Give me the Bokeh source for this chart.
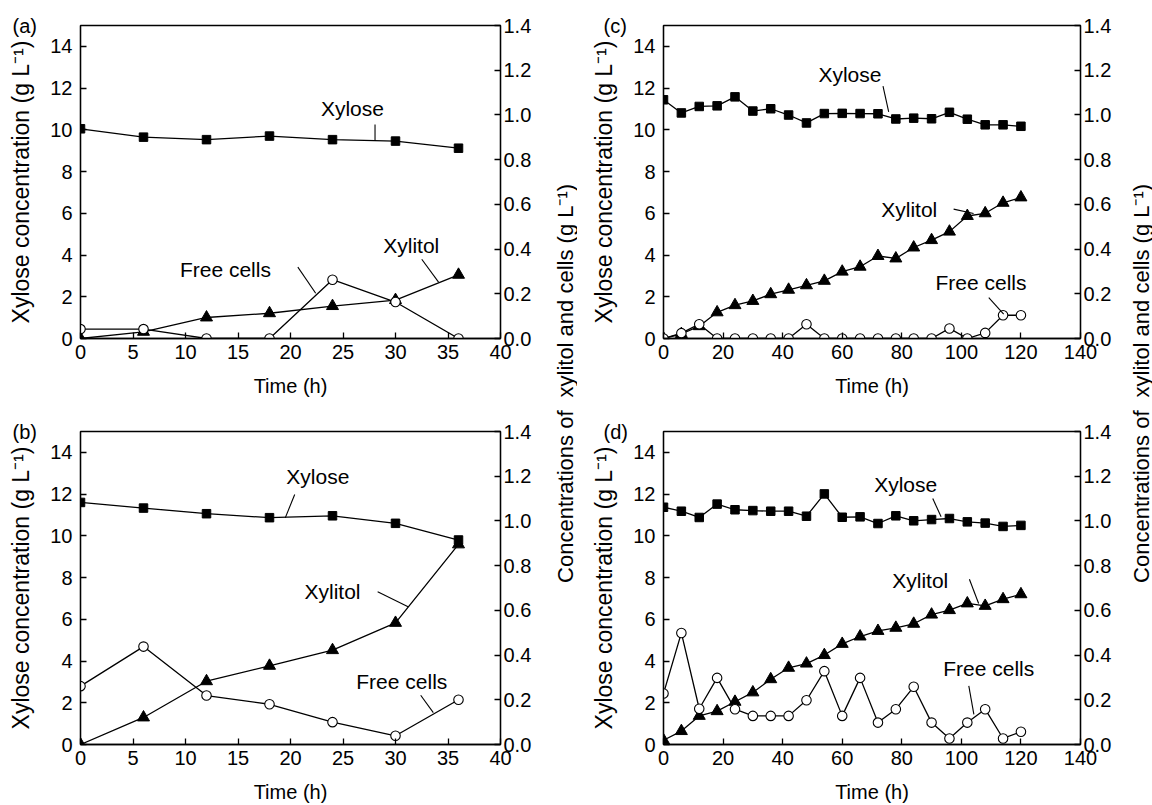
import math
from bokeh.plotting import figure
from bokeh.models import Range1d, LinearAxis, FixedTicker, PrintfTickFormatter, Label
from bokeh.layouts import row, column
from bokeh.embed import file_html
from bokeh.resources import INLINE

# ---------------- data ----------------
time_ab = [0, 6, 12, 18, 24, 30, 36]
time_cd = [0, 6, 12, 18, 24, 30, 36, 42, 48, 54, 60, 66, 72, 78, 84, 90, 96, 102, 108, 114, 120]

xylose_a = [10.05, 9.65, 9.53, 9.70, 9.53, 9.46, 9.12]
xylitol_a = [0.0, 0.030, 0.094, 0.113, 0.145, 0.172, 0.285]
cells_a = [0.042, 0.042, 0.0, 0.0, 0.263, 0.163, 0.0]

xylose_b = [11.60, 11.33, 11.06, 10.87, 10.96, 10.60, 9.80]
xylitol_b = [0.0, 0.121, 0.283, 0.352, 0.422, 0.544, 0.895]
cells_b = [0.261, 0.438, 0.219, 0.180, 0.100, 0.039, 0.200]

xylose_c = [11.44, 10.81, 11.12, 11.15, 11.58, 10.90, 11.01, 10.71, 10.33, 10.78, 10.79,
            10.78, 10.77, 10.52, 10.56, 10.53, 10.84, 10.51, 10.24, 10.24, 10.17]
xylitol_c = [0.0, 0.020, 0.055, 0.117, 0.149, 0.168, 0.198, 0.218, 0.238, 0.258, 0.299,
             0.321, 0.369, 0.358, 0.407, 0.440, 0.478, 0.548, 0.560, 0.607, 0.631]
cells_c = [0.0, 0.024, 0.064, 0.0, 0.0, 0.0, 0.0, 0.0, 0.064, 0.0, 0.0,
           0.0, 0.0, 0.0, 0.0, 0.0, 0.045, 0.0, 0.025, 0.104, 0.104]

xylose_d = [11.37, 11.18, 10.88, 11.52, 11.25, 11.21, 11.18, 11.18, 10.94, 12.01, 10.89,
            10.91, 10.59, 10.96, 10.72, 10.78, 10.83, 10.67, 10.61, 10.45, 10.50]
xylitol_d = [0.019, 0.060, 0.128, 0.149, 0.191, 0.233, 0.292, 0.343, 0.362, 0.400, 0.450,
             0.483, 0.508, 0.522, 0.540, 0.581, 0.601, 0.631, 0.620, 0.650, 0.672]
cells_d = [0.228, 0.499, 0.160, 0.298, 0.158, 0.128, 0.128, 0.128, 0.198, 0.328, 0.128,
           0.298, 0.098, 0.158, 0.258, 0.098, 0.027, 0.098, 0.158, 0.027, 0.057]

x_ticks_ab = [0, 5, 10, 15, 20, 25, 30, 35, 40]
x_ticks_cd = [0, 20, 40, 60, 80, 100, 120, 140]
left_ticks = [0, 2, 4, 6, 8, 10, 12, 14]
right_ticks = [0.0, 0.2, 0.4, 0.6, 0.8, 1.0, 1.2, 1.4]

series_names = ["Xylose", "Xylitol", "Free cells"]
right_label_upper = "xylitol and cells (g L\u207b\u00b9)"
right_label_lower = "Concentrations of"

# annotation placements (left-axis data units)
ann = {
    "a": [(25.9, 11.0), (31.5, 4.46), (13.8, 3.33)],
    "b": [(22.6, 12.84), (24.0, 7.32), (30.6, 3.04)],
    "c": [(62.6, 12.67), (82.5, 6.2), (106.6, 2.67)],
    "d": [(81.3, 12.48), (86.2, 7.86), (109.2, 3.64)],
}
leaders = {
    "a": [(28.05, 10.25, 28.05, 9.5), (32.5, 3.8, 34.1, 2.7), (20.7, 3.42, 22.4, 2.17)],
    "b": [(20.4, 11.98, 19.5, 10.86), (28.3, 7.32, 31.2, 6.6), (32.4, 2.36, 33.6, 1.53)],
    "c": [(73.7, 12.09, 75.6, 10.86), (97.4, 6.2, 104.1, 5.99), (109.2, 1.96, 114.2, 1.17)],
    "d": [(90.4, 11.79, 93.2, 10.91), (102.7, 7.92, 105.8, 6.76), (102.5, 2.81, 104.2, 1.44)],
}

FONT = "Liberation Sans"
TICK_SIZE = "20px"
XLBL_SIZE = "20px"
YLBL_SIZE = "23px"
RLBL_SIZE = "22px"
TAG_SIZE = "20px"
ANN_SIZE = "21px"
LW = 1.3
FRAME_H = 313


def make_panel(tag, t, xylose, xylitol, cells, xmax, xticks, width, height,
               mb_left, mb_right, mb_top, mb_bottom, tag_offset):
    p = figure(width=width, height=height, x_range=Range1d(0, xmax), y_range=Range1d(0, 15),
               output_backend="svg", toolbar_location=None,
               min_border_left=mb_left, min_border_right=mb_right,
               min_border_top=mb_top, min_border_bottom=mb_bottom,
               title="(" + tag + ")")
    # panel tag drawn as title, pulled left of the frame and down onto its top edge
    p.title.align = "left"
    p.title.offset = tag_offset
    p.title.vertical_align = "bottom"
    p.title.standoff = -22
    p.title.text_font = FONT
    p.title.text_font_size = TAG_SIZE
    p.title.text_font_style = "normal"
    p.title.text_color = "black"

    p.extra_y_ranges = {"r": Range1d(0, 1.4)}
    p.xgrid.visible = False
    p.ygrid.visible = False
    p.outline_line_color = "black"
    p.outline_line_width = LW
    p.background_fill_color = "white"
    p.border_fill_color = "white"

    p.xaxis.ticker = FixedTicker(ticks=xticks)
    p.yaxis.ticker = FixedTicker(ticks=left_ticks)
    p.xaxis.axis_label = "Time (h)"
    p.yaxis.axis_label = "Xylose concentration (g L\u207b\u00b9)"

    rax = LinearAxis(y_range_name="r", ticker=FixedTicker(ticks=right_ticks),
                     formatter=PrintfTickFormatter(format="%.1f"))
    p.add_layout(rax, "right")

    for ax in p.axis:
        ax.major_tick_in = 6
        ax.major_tick_out = 0
        ax.minor_tick_in = 0
        ax.minor_tick_out = 0
        ax.axis_line_color = "black"
        ax.axis_line_width = LW
        ax.major_tick_line_width = LW
        ax.major_label_text_font = FONT
        ax.major_label_text_font_size = TICK_SIZE
        ax.major_label_text_color = "black"
        ax.axis_label_text_font = FONT
        ax.axis_label_text_font_style = "normal"
        ax.axis_label_text_color = "black"
    p.xaxis.axis_label_text_font_size = XLBL_SIZE
    p.yaxis.axis_label_text_font_size = YLBL_SIZE
    p.xaxis.major_label_standoff = 6
    p.xaxis.axis_label_standoff = 13
    p.yaxis.major_label_standoff = 8
    p.yaxis.axis_label_standoff = 13
    rax.major_label_standoff = 3

    # series
    p.line(t, xylitol, y_range_name="r", line_color="black", line_width=LW)
    p.scatter(t, xylitol, y_range_name="r", marker="triangle", size=12,
              fill_color="black", line_color="black")
    p.line(t, xylose, line_color="black", line_width=LW)
    p.scatter(t, xylose, marker="square", size=8.5, fill_color="black", line_color="black")
    p.line(t, cells, y_range_name="r", line_color="black", line_width=LW)
    p.scatter(t, cells, y_range_name="r", marker="circle", size=9.5,
              fill_color="white", line_color="black", line_width=1.1)

    # leader lines and annotations
    segs = leaders[tag]
    p.segment(x0=[s[0] for s in segs], y0=[s[1] for s in segs],
              x1=[s[2] for s in segs], y1=[s[3] for s in segs],
              line_color="black", line_width=1.1)
    for name, (ax_, ay_) in zip(series_names, ann[tag]):
        p.add_layout(Label(x=ax_, y=ay_, text=name, text_font=FONT,
                           text_font_size=ANN_SIZE, text_align="center",
                           text_baseline="middle", text_color="black"))
    return p


TOTAL_H = 805
TOP_H = 405
BOT_H = TOTAL_H - TOP_H
LEFT_W, RIGHT_W = 553, 552

pa = make_panel("a", time_ab, xylose_a, xylitol_a, cells_a, 40, x_ticks_ab, LEFT_W, TOP_H,
                80, 53, 25, TOP_H - 25 - FRAME_H, -68)
pb = make_panel("b", time_ab, xylose_b, xylitol_b, cells_b, 40, x_ticks_ab, LEFT_W, BOT_H,
                80, 53, 26, BOT_H - 26 - FRAME_H, -68)
pc = make_panel("c", time_cd, xylose_c, xylitol_c, cells_c, 140, x_ticks_cd, RIGHT_W, TOP_H,
                86, 49, 25, TOP_H - 25 - FRAME_H, -60)
pd = make_panel("d", time_cd, xylose_d, xylitol_d, cells_d, 140, x_ticks_cd, RIGHT_W, BOT_H,
                86, 49, 26, BOT_H - 26 - FRAME_H, -60)


def make_strip(width):
    H = TOTAL_H
    s = figure(width=width, height=H, x_range=Range1d(0, 1), y_range=Range1d(0, H),
               output_backend="svg", toolbar_location=None, min_border=0)
    s.axis.visible = False
    s.xgrid.visible = False
    s.ygrid.visible = False
    s.outline_line_color = None
    s.border_fill_color = "white"
    s.background_fill_color = "white"
    # right-axis title, split across the two panel rows as in the original figure
    s.add_layout(Label(x=0.5, y=H - 397, text=right_label_upper,
                       angle=math.pi / 2, text_font=FONT, text_font_size=RLBL_SIZE,
                       text_align="left", text_baseline="middle", text_color="black"))
    s.add_layout(Label(x=0.5, y=H - 410, text=right_label_lower,
                       angle=math.pi / 2, text_font=FONT, text_font_size=RLBL_SIZE,
                       text_align="right", text_baseline="middle", text_color="black"))
    return s


sa = make_strip(24)
sc = make_strip(23)

layout = row(column(pa, pb), sa, column(pc, pd), sc)

open("out.html", "w").write(file_html(layout, INLINE, title="Xylose and xylitol time courses"))
